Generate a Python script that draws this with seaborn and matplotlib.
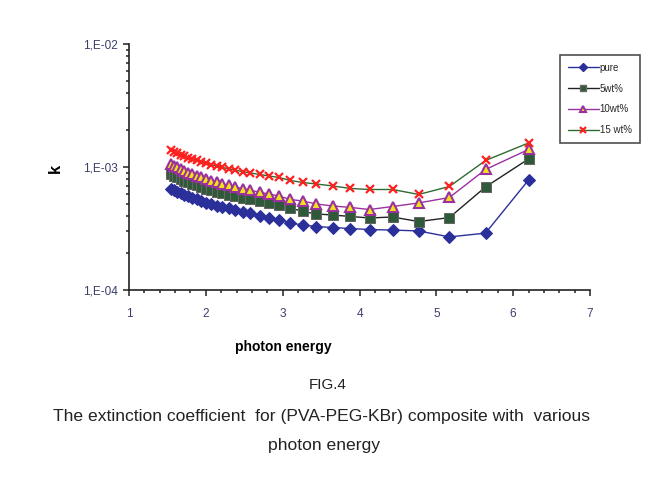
import matplotlib
matplotlib.use("Agg")
import matplotlib.pyplot as plt
import seaborn as sns
import pandas as pd
from matplotlib.ticker import FixedLocator, LogLocator, MultipleLocator, NullFormatter
from matplotlib.lines import Line2D

# photon energy (eV)
energy = [1.55, 1.59, 1.63, 1.68, 1.72, 1.77, 1.82, 1.88, 1.94, 2.00,
          2.07, 2.14, 2.21, 2.30, 2.38, 2.48, 2.58, 2.70, 2.82, 2.95,
          3.10, 3.26, 3.44, 3.65, 3.88, 4.13, 4.43, 4.77, 5.17, 5.64, 6.20]

k_pure = [6.63e-4, 6.44e-4, 6.26e-4, 6.09e-4, 5.92e-4, 5.76e-4, 5.60e-4, 5.44e-4, 5.29e-4, 5.14e-4,
          5.00e-4, 4.86e-4, 4.73e-4, 4.60e-4, 4.47e-4, 4.31e-4, 4.19e-4, 4.03e-4, 3.88e-4, 3.74e-4,
          3.50e-4, 3.38e-4, 3.28e-4, 3.22e-4, 3.16e-4, 3.10e-4, 3.07e-4, 3.02e-4, 2.70e-4, 2.90e-4, 7.84e-4]

k_5wt = [8.77e-4, 8.50e-4, 8.25e-4, 7.99e-4, 7.75e-4, 7.52e-4, 7.30e-4, 7.09e-4, 6.88e-4, 6.67e-4,
         6.48e-4, 6.29e-4, 6.11e-4, 5.94e-4, 5.78e-4, 5.61e-4, 5.44e-4, 5.26e-4, 5.09e-4, 4.91e-4,
         4.64e-4, 4.35e-4, 4.15e-4, 4.07e-4, 3.96e-4, 3.85e-4, 3.92e-4, 3.60e-4, 3.88e-4, 6.88e-4, 1.162e-3]

k_10wt = [1.058e-3, 1.023e-3, 9.91e-4, 9.60e-4, 9.30e-4, 9.01e-4, 8.74e-4, 8.48e-4, 8.23e-4, 7.99e-4,
          7.75e-4, 7.52e-4, 7.30e-4, 7.09e-4, 6.88e-4, 6.66e-4, 6.45e-4, 6.24e-4, 6.02e-4, 5.81e-4,
          5.44e-4, 5.29e-4, 5.00e-4, 4.82e-4, 4.69e-4, 4.51e-4, 4.77e-4, 5.10e-4, 5.65e-4, 9.54e-4, 1.388e-3]

k_15wt = [1.362e-3, 1.324e-3, 1.290e-3, 1.257e-3, 1.224e-3, 1.192e-3, 1.162e-3, 1.132e-3, 1.102e-3, 1.074e-3,
          1.046e-3, 1.019e-3, 9.92e-4, 9.67e-4, 9.42e-4, 9.17e-4, 8.94e-4, 8.69e-4, 8.45e-4, 8.22e-4,
          7.77e-4, 7.48e-4, 7.27e-4, 7.01e-4, 6.69e-4, 6.56e-4, 6.56e-4, 5.98e-4, 6.94e-4, 1.129e-3, 1.567e-3]

series_labels = ["pure", "5wt%", "10wt%", "15 wt%"]
y_tick_labels = ["1,E-04", "1,E-03", "1,E-02"]
x_ticks = [1, 2, 3, 4, 5, 6, 7]

sns.set_style("white")
plt.rcParams['font.family'] = ['Liberation Sans Narrow', 'Liberation Sans', 'DejaVu Sans']

fig = plt.figure(figsize=(6.72, 4.83), dpi=100)
ax = fig.add_axes([0.192, 0.3996, 0.686, 0.5094])

styles = [
    dict(color="#2b2f9a", marker="D", markersize=6, markerfacecolor="#2b2f9a", markeredgecolor="#2b2f9a"),
    dict(color="#222222", marker="s", markersize=6.5, markerfacecolor="#2f5a3a", markeredgecolor="#666666"),
    dict(color="#9b30a0", marker="^", markersize=7, markerfacecolor="#f2e21a", markeredgecolor="#9b30a0", markeredgewidth=1.5),
    dict(color="#2f6b2f", marker="x", markersize=6, markerfacecolor="#ff2020", markeredgecolor="#ff2020", markeredgewidth=1.6),
]
data = [k_pure, k_5wt, k_10wt, k_15wt]

for vals, lab, st in zip(data, series_labels, styles):
    df = pd.DataFrame({"energy": energy, "k": vals})
    sns.lineplot(data=df, x="energy", y="k", ax=ax, linewidth=1.0, label=lab, legend=False, **st)

ax.set_yscale("log")
ax.set_xlim(1, 7)
ax.set_ylim(1e-4, 1e-2)

ax.yaxis.set_major_locator(FixedLocator([1e-4, 1e-3, 1e-2]))
ax.set_yticklabels(y_tick_labels)
ax.yaxis.set_minor_locator(LogLocator(base=10, subs=[2, 3, 4, 5, 6, 7, 8, 9]))
ax.yaxis.set_minor_formatter(NullFormatter())
ax.xaxis.set_major_locator(FixedLocator(x_ticks))
ax.set_xticklabels([str(t) for t in x_ticks])
ax.xaxis.set_minor_locator(MultipleLocator(0.2))

for sp in ["top", "right"]:
    ax.spines[sp].set_visible(False)
for sp in ["left", "bottom"]:
    ax.spines[sp].set_color("#222222")
    ax.spines[sp].set_linewidth(1.2)

ax.tick_params(axis="both", which="both", direction="out", bottom=True, left=True,
               colors="#222222", labelcolor="#3a3f6a", labelsize=8.5)
ax.tick_params(axis="both", which="major", length=4, width=1.1)
ax.tick_params(axis="both", which="minor", length=2.5, width=1.1)
ax.tick_params(axis="x", which="major", pad=9)
ax.tick_params(axis="y", which="major", pad=4)
ax.set_xlabel("")
ax.set_ylabel("")

fig.text(0.082, 0.652, "k", rotation=90, ha="center", va="center", fontsize=12, fontweight="bold", color="black")
fig.text(0.421, 0.281, "photon energy", ha="center", va="center", fontsize=10, fontweight="bold", color="black")

fig.text(0.487, 0.203, "FIG.4", ha="center", va="center", fontsize=11, color="#222222")
fig.text(0.478, 0.138, "The extinction coefficient  for (PVA-PEG-KBr) composite with  various",
         ha="center", va="center", fontsize=12.6, color="#222222")
fig.text(0.482, 0.077, "photon energy", ha="center", va="center", fontsize=12.6, color="#222222")

handles = []
for lab, st in zip(series_labels, styles):
    h = Line2D([0], [0], linewidth=1.0, **{k: v for k, v in st.items() if k != "markersize"}, markersize=4)
    handles.append(h)
leg = fig.legend(handles, series_labels, loc="upper left", bbox_to_anchor=(0.826, 0.896),
                 fontsize=7, frameon=True, fancybox=False, handlelength=3.2, labelspacing=1.1,
                 borderpad=0.8, handletextpad=0.1, markerscale=1.0)
leg.get_frame().set_edgecolor("#222222")
leg.get_frame().set_linewidth(1.2)

fig.savefig("out.png", dpi=100)
